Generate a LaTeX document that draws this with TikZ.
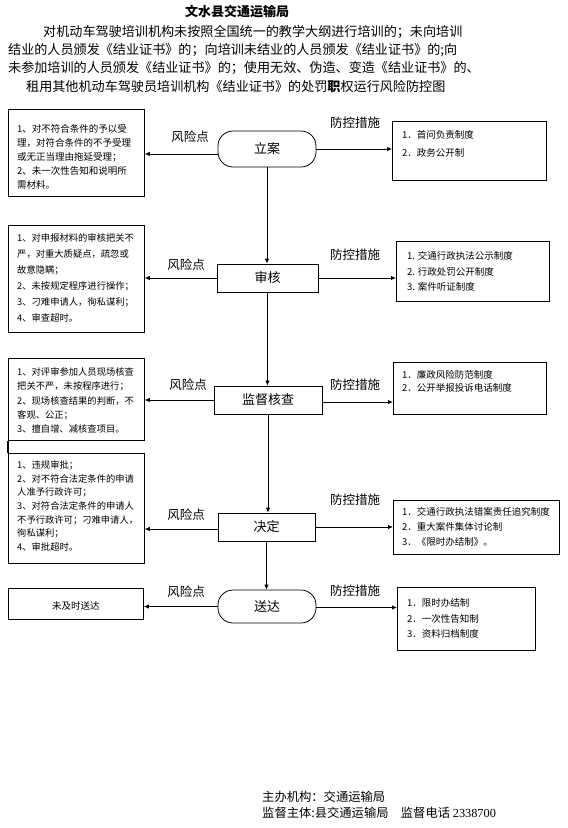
\documentclass[tikz,border=0pt]{standalone}
\usepackage{fontspec}
\setmainfont{Noto Sans CJK SC}
\newfontfamily\numfont{Liberation Serif}
\usetikzlibrary{arrows.meta}
\begin{document}
\begin{tikzpicture}[x=1pt,y=-1pt,
  box/.style={draw, line width=0.8pt, inner sep=0pt, anchor=north west},
  flow/.style={draw, line width=0.8pt, inner sep=0pt, font=\fontsize{13}{15}\selectfont},
  arr/.style={-{Latex[length=5pt,width=4.5pt]}, line width=0.8pt},
  lbl/.style={inner sep=0pt, font=\fontsize{12.5}{14}\selectfont},
  txt/.style={anchor=west, align=left, inner sep=0pt},
  para/.style={anchor=west, inner sep=0pt, font=\fontsize{13.1}{15}\selectfont}]
\useasboundingbox (0,0) rectangle (568,828);

% title and heading
\node[inner sep=0pt, font=\fontsize{13}{15}\selectfont\bfseries] (T) at (237,12) {文水县交通运输局};
\node[para] (P1) at (43,32) {对机动车驾驶培训机构未按照全国统一的教学大纲进行培训的；未向培训};
\node[para] (P2) at (8,50) {结业的人员颁发《结业证书》的；向培训未结业的人员颁发《结业证书》的;向};
\node[para] (P3) at (8,68) {未参加培训的人员颁发《结业证书》的；使用无效、伪造、变造《结业证书》的、};
\node[para] (P4) at (26,87) {租用其他机动车驾驶员培训机构《结业证书》的处罚{\bfseries 职}权运行风险防控图};

% center flow
\node[flow, rounded corners=15pt, minimum width=98pt, minimum height=36pt] (C1) at (267,149) {立案};
\node[flow, minimum width=101pt, minimum height=28pt] (C2) at (267.5,278) {审核};
\node[flow, minimum width=108pt, minimum height=28pt] (C3) at (268,400) {监督核查};
\node[flow, minimum width=97pt, minimum height=28pt] (C4) at (266.5,527) {决定};
\node[flow, rounded corners=15pt, minimum width=98pt, minimum height=33pt] (C5) at (267,606.5) {送达};

\draw[arr] (C1.south) -- (C1.south |- C2.north);
\draw[arr] (C2.south) -- (C2.south |- C3.north);
\draw[arr] (C3.south) -- (C3.south |- C4.north);
\draw[arr] (C4.south) -- (C4.south |- C5.north);

% left boxes
\node[box, minimum width=136pt, minimum height=87pt] (L1) at (8,109) {};
\node[box, minimum width=136pt, minimum height=107pt] (L2) at (8,225) {};
\node[box, minimum width=136pt, minimum height=82pt] (L3) at (8,358) {};
\node[box, minimum width=136pt, minimum height=110pt] (L4) at (8,453) {};
\node[box, minimum width=135pt, minimum height=31pt] (L5) at (8,588) {};
\draw[line width=1.6pt] (L3.south west) -- (L4.north west);

\node[txt, font=\fontsize{9.5}{14}\selectfont] (LT1) at (17,157) {1、对不符合条件的予以受\\理，对符合条件的不予受理\\或无正当理由拖延受理；\\2、未一次性告知和说明所\\需材料。};
\node[txt, font=\fontsize{9.3}{16}\selectfont] (LT2) at (17,278) {1、对申报材料的审核把关不\\严，对重大质疑点，疏忽或\\故意隐瞒；\\2、未按规定程序进行操作；\\3、刁难申请人，徇私谋利；\\4、审查超时。};
\node[txt, font=\fontsize{9.3}{14.2}\selectfont] (LT3) at (17,400.5) {1、对评审参加人员现场核查\\把关不严，未按程序进行；\\2、现场核查结果的判断，不\\客观、公正；\\3、擅自增、减核查项目。};
\node[txt, font=\fontsize{9.3}{13.7}\selectfont] (LT4) at (17,506) {1、违规审批；\\2、对不符合法定条件的申请\\人准予行政许可；\\3、对符合法定条件的申请人\\不予行政许可；刁难申请人，\\徇私谋利；\\4、审批超时。};
\node[inner sep=0pt, font=\fontsize{9.5}{12}\selectfont] (LT5) at (76,606) {未及时送达};

% right boxes
\node[box, minimum width=154pt, minimum height=59pt] (R1) at (392,121) {};
\node[box, minimum width=153pt, minimum height=60pt] (R2) at (396,241) {};
\node[box, minimum width=153pt, minimum height=52pt] (R3) at (393,362) {};
\node[box, minimum width=166pt, minimum height=54pt] (R4) at (393,500) {};
\node[box, minimum width=138pt, minimum height=63pt] (R5) at (397,587) {};

\node[txt, font=\fontsize{9.5}{18}\selectfont] (RT1) at (402,144) {1．首问负责制度\\2．政务公开制};
\node[txt, font=\fontsize{9.5}{15.5}\selectfont] (RT2) at (407,271.5) {1. 交通行政执法公示制度\\2. 行政处罚公开制度\\3. 案件听证制度};
\node[txt, font=\fontsize{9.5}{13}\selectfont] (RT3) at (402,381.5) {1．廉政风险防范制度\\2．公开举报投诉电话制度};
\node[txt, font=\fontsize{9.5}{15}\selectfont] (RT4) at (402,527) {1．交通行政执法错案责任追究制度\\2．重大案件集体讨论制\\3．《限时办结制》。};
\node[txt, font=\fontsize{9.5}{15.5}\selectfont] (RT5) at (407,618.5) {1．限时办结制\\2．一次性告知制\\3．资料归档制度};

% horizontal connectors
\draw[arr] ([yshift=-5pt]C1.west) -- ([yshift=-5pt]C1.west -| L1.east);
\draw[arr] (C2.west) -- (C2.west -| L2.east);
\draw[arr] (C3.west) -- (C3.west -| L3.east);
\draw[arr] ([yshift=-2pt]C4.west) -- ([yshift=-2pt]C4.west -| L4.east);
\draw[arr] (C5.west) -- (C5.west -| L5.east);
\draw[arr] (C1.east) -- (C1.east -| R1.west);
\draw[arr] (C2.east) -- (C2.east -| R2.west);
\draw[arr] ([yshift=-2pt]C3.east) -- ([yshift=-2pt]C3.east -| R3.west);
\draw[arr] (C4.east) -- (C4.east -| R4.west);
\draw[arr] ([yshift=-1pt]C5.east) -- ([yshift=-1pt]C5.east -| R5.west);

% labels
\node[lbl] (K1) at (190,137) {风险点};
\node[lbl] (K2) at (186,265) {风险点};
\node[lbl] (K3) at (188,385) {风险点};
\node[lbl] (K4) at (186,515) {风险点};
\node[lbl] (K5) at (186,592) {风险点};
\node[lbl] (M1) at (355,123) {防控措施};
\node[lbl] (M2) at (355,255) {防控措施};
\node[lbl] (M3) at (355,385) {防控措施};
\node[lbl] (M4) at (355,500) {防控措施};
\node[lbl] (M5) at (355,591) {防控措施};

% footer
\node[anchor=west, inner sep=0pt, font=\fontsize{12.3}{14}\selectfont] (B1) at (262,797) {主办机构：交通运输局};
\node[anchor=west, inner sep=0pt, font=\fontsize{12.3}{14}\selectfont] (B2) at (262,813) {监督主体:县交通运输局　监督电话 {\numfont 2338700}};
\end{tikzpicture}
\end{document}
